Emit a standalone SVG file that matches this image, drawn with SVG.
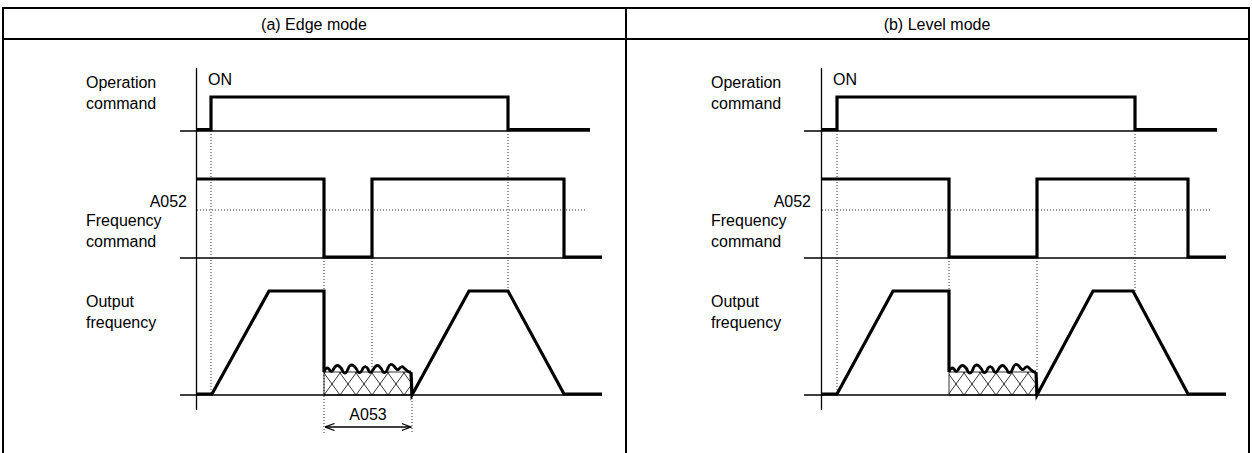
<svg xmlns="http://www.w3.org/2000/svg" width="1252" height="453" viewBox="0 0 1252 453">
<style>
text{font-family:"Liberation Sans",Arial,sans-serif;fill:#000;font-size:16px}
.hd{text-anchor:middle}
.tbl{stroke:#000;stroke-width:2;fill:none}
.base{stroke:#000;stroke-width:1.3;fill:none}
.thick{stroke:#000;stroke-width:3.2;fill:none;stroke-linejoin:miter}
.noise{stroke:#000;stroke-width:2.8;fill:none;stroke-linejoin:round}
.dot{stroke:#333;stroke-width:1;stroke-dasharray:1,2;fill:none}
</style>
<defs>
<pattern id="hatch" patternUnits="userSpaceOnUse" x="324" y="373" width="16" height="22">
<path d="M0,0 L16,22 M16,0 L0,22" stroke="#000" stroke-width="0.8" fill="none"/>
</pattern>
<marker id="arr" viewBox="0 0 10 8" refX="9.5" refY="4" markerWidth="10" markerHeight="8" markerUnits="userSpaceOnUse" orient="auto-start-reverse">
<path d="M0,0.5 L9.5,4 L0,7.5" fill="none" stroke="#000" stroke-width="1.2"/>
</marker>
<path id="noise" d="M0,0 Q2,-6 5,-3 Q7,1 9,-2 Q12,-8 15,-6 Q18,-4 19,0 Q22,3 24,-3 Q26,-9 30,-6 Q33,-3 34,0 Q37,2 39,-4 Q42,-7 44,-3 Q46,3 49,-2 Q52,-8 55,-6 Q58,-3 59,0 Q62,2 64,-4 Q66,-10 70,-6 Q73,-1 75,-3 Q78,-7 80,-4 Q83,-1 85,0 L87,0"/>
</defs>
<rect width="1252" height="453" fill="#fff"/>
<g id="table">
<path class="tbl" d="M3,453 L3,8 L1249,8 L1249,453 M3,39 L1249,39 M626,8 L626,453"/>
<text class="hd" x="314" y="30">(a) Edge mode</text>
<text class="hd" x="937" y="30">(b) Level mode</text>
</g>
<g id="panel-a">
<g id="labels-a">
<text x="86" y="88">Operation</text>
<text x="86" y="109">command</text>
<text x="208" y="85">ON</text>
<text x="187" y="207" text-anchor="end">A052</text>
<text x="86" y="226">Frequency</text>
<text x="86" y="247">command</text>
<text x="86" y="307">Output</text>
<text x="86" y="328">frequency</text>
<text x="368" y="420" text-anchor="middle">A053</text>
</g>
<g id="axes-a">
<path class="base" d="M196.5,68 L196.5,410 M180,131 L590,131 M180,258 L602,258 M180,395 L602,395"/>
</g>
<g id="guides-a">
<path class="dot" d="M197,210 L587,210 M211,131 L211,393 M324,258 L324,433 M372,258 L372,372 M412,395 L412,433 M508,131 L508,291"/>
</g>
<rect x="324" y="372" width="87" height="23" fill="url(#hatch)" stroke="#000" stroke-width="0.8"/>
<g id="signals-a">
<path class="thick" d="M196,129.5 L211,129.5 L211,97 L508,97 L508,129.5 L590,129.5"/>
<path class="thick" d="M196,179 L324,179 L324,257 L372,257 L372,179 L564,179 L564,257 L602,257"/>
<path class="thick" d="M196,394 L212,394 L269,291 L324,291 L324,372"/>
<use href="#noise" class="noise" transform="translate(324,372)"/>
<path class="thick" d="M411,372 L412,395 L469,291 L508,291 L564,394 L602,394"/>
</g>
<g id="dim-a">
<line x1="325" y1="427" x2="411" y2="427" stroke="#000" stroke-width="1.3" marker-start="url(#arr)" marker-end="url(#arr)"/>
</g>
</g>
<g id="panel-b">
<g id="labels-b">
<text x="711" y="88">Operation</text>
<text x="711" y="109">command</text>
<text x="833" y="85">ON</text>
<text x="811" y="207" text-anchor="end">A052</text>
<text x="711" y="226">Frequency</text>
<text x="711" y="247">command</text>
<text x="711" y="307">Output</text>
<text x="711" y="328">frequency</text>
</g>
<g id="axes-b">
<path class="base" d="M821.5,68 L821.5,410 M804,131 L1217,131 M804,258 L1226,258 M804,395 L1226,395"/>
</g>
<g id="guides-b">
<path class="dot" d="M822,210 L1211,210 M837,131 L837,393 M949,258 L949,372 M1037,258 L1037,372 M1135,131 L1135,291"/>
</g>
<rect x="949" y="372" width="87" height="23" fill="url(#hatch)" stroke="#000" stroke-width="0.8"/>
<g id="signals-b">
<path class="thick" d="M821,129.5 L837,129.5 L837,97 L1135,97 L1135,129.5 L1217,129.5"/>
<path class="thick" d="M821,179 L949,179 L949,257 L1037,257 L1037,179 L1188,179 L1188,257 L1226,257"/>
<path class="thick" d="M821,394 L837,394 L893,291 L949,291 L949,372"/>
<use href="#noise" class="noise" transform="translate(949,372)"/>
<path class="thick" d="M1036,372 L1037,395 L1093,291 L1133,291 L1188,394 L1226,394"/>
</g>
</g>
</svg>
